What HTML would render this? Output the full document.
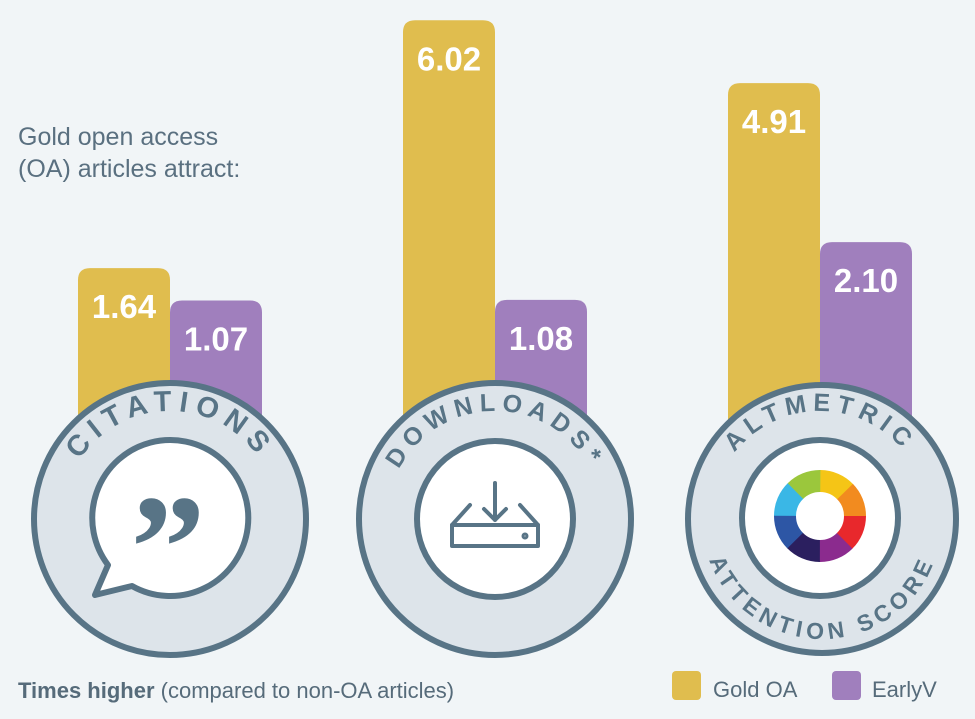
<!DOCTYPE html>
<html><head><meta charset="utf-8">
<style>
html,body{margin:0;padding:0;background:#f1f5f7;}
svg{display:block;font-family:"Liberation Sans",sans-serif;}
</style></head>
<body>
<svg id="chart" width="975" height="719" viewBox="0 0 975 719">
<rect width="975" height="719" fill="#f1f5f7"/>
<text x="18" y="145" font-size="25" fill="#5a7080">Gold open access</text>
<text x="18" y="177" font-size="25" fill="#5a7080">(OA) articles attract:</text>
<g id="bars"></g>
<text x="18" y="698" font-size="22" fill="#566b7a"><tspan font-weight="bold">Times higher</tspan> (compared to non-OA articles)</text>
<rect x="672" y="671" width="29" height="29" rx="4" fill="#e0bd4e"/>
<text x="713" y="697" font-size="22" fill="#566b7a">Gold OA</text>
<rect x="832" y="671" width="29" height="29" rx="4" fill="#a07fbd"/>
<text x="872" y="697" font-size="22" fill="#566b7a">EarlyV</text>
</svg>
<script>
const categories = ["Citations","Downloads","Altmetric"];
const goldValues = [1.64, 6.02, 4.91];
const earlyValues = [1.07, 1.08, 2.10];
const goldLabels = ["1.64","6.02","4.91"];
const earlyLabels = ["1.07","1.08","2.10"];

const NS = "http://www.w3.org/2000/svg";
const baseY = 361, pxPerUnit = 56.6, barBottom = 470, barW = 92;
const centers = [170, 495, 820];
const yScale = v => baseY - v * pxPerUnit;
function mk(tag, attrs, parent){const e=document.createElementNS(NS,tag);for(const k in attrs)e.setAttribute(k,attrs[k]);parent.appendChild(e);return e;}
const bars = document.getElementById('bars');
categories.forEach((c,i)=>{
  const cx = centers[i];
  [[goldValues[i],goldLabels[i],"#e0bd4e",cx-barW,"gold"],[earlyValues[i],earlyLabels[i],"#a07fbd",cx,"earlyv"]].forEach(([v,l,col,x,s])=>{
    const y = yScale(v);
    const p = mk('path',{d:`M${x} ${barBottom} V${y+12} Q${x} ${y} ${x+12} ${y} H${x+barW-12} Q${x+barW} ${y} ${x+barW} ${y+12} V${barBottom} Z`,fill:col},bars);
    
    
    const t = mk('text',{x:x+barW/2,y:y+50,'text-anchor':'middle','font-size':33,'font-weight':'bold',fill:'#fff'},bars);
    t.textContent = l;
    
    
  });
});
</script>
<svg style="position:absolute;left:0;top:0" width="975" height="719">
<defs>
<path id="arcTop1" d="M62 519 A108 108 0 0 1 278 519"/>
<path id="arcTop2" d="M387 519 A108 108 0 0 1 603 519"/>
<path id="arcTop3" d="M712 519 A108 108 0 0 1 928 519"/>
<path id="arcBot3" d="M702 519 A120 120 0 0 0 942 519"/>
</defs>
<g>
<circle cx="170" cy="519" r="136" fill="#dde4ea" stroke="#587486" stroke-width="6"/>
<text font-size="29" font-weight="bold" fill="#587486" letter-spacing="7" font-family="Liberation Sans,sans-serif"><textPath href="#arcTop1" startOffset="50%" text-anchor="middle">CITATIONS</textPath></text>
<path d="M108 565 A78 78 0 1 1 132 586 L95 595 Z" fill="#fff" stroke="#587486" stroke-width="6" stroke-linejoin="round"/>
<text x="168" y="598" text-anchor="middle" font-size="150" font-weight="bold" fill="#587486" font-family="Liberation Serif,serif">”</text>
</g>
<g>
<circle cx="495" cy="519" r="136" fill="#dde4ea" stroke="#587486" stroke-width="6"/>
<text font-size="25" font-weight="bold" fill="#587486" letter-spacing="6" font-family="Liberation Sans,sans-serif"><textPath href="#arcTop2" startOffset="50%" text-anchor="middle">DOWNLOADS*</textPath></text>
<circle cx="495" cy="519" r="78" fill="#fff" stroke="#587486" stroke-width="6"/>
<g fill="none" stroke="#587486" stroke-width="4" stroke-linecap="round" stroke-linejoin="round">
<path d="M470 505 L452 525 V546 H538 V525 L520 505"/><path d="M452 525 H538"/><path d="M495 483 V520 M484 509 L495 520 L506 509"/><circle cx="525" cy="536" r="1.5"/>
</g>
</g>
<g>
<circle cx="822" cy="519" r="134" fill="#dde4ea" stroke="#587486" stroke-width="6"/>
<text font-size="25" font-weight="bold" fill="#587486" letter-spacing="6" font-family="Liberation Sans,sans-serif"><textPath href="#arcTop3" startOffset="50%" text-anchor="middle">ALTMETRIC</textPath></text>
<text font-size="23" font-weight="bold" fill="#587486" letter-spacing="5" font-family="Liberation Sans,sans-serif"><textPath href="#arcBot3" startOffset="50%" text-anchor="middle">ATTENTION SCORE</textPath></text>
<circle cx="820" cy="518" r="78" fill="#fff" stroke="#587486" stroke-width="6"/>
<g fill="none" stroke-width="22">
<circle cx="820" cy="516" r="35" stroke="#e8282c" stroke-dasharray="28 200" stroke-dashoffset="0"/>
<circle cx="820" cy="516" r="35" stroke="#8b2b8e" stroke-dasharray="28 200" stroke-dashoffset="-27.5"/>
<circle cx="820" cy="516" r="35" stroke="#2b1f5f" stroke-dasharray="28 200" stroke-dashoffset="-55"/>
<circle cx="820" cy="516" r="35" stroke="#2d56a5" stroke-dasharray="28 200" stroke-dashoffset="-82.5"/>
<circle cx="820" cy="516" r="35" stroke="#3ab7e6" stroke-dasharray="28 200" stroke-dashoffset="-110"/>
<circle cx="820" cy="516" r="35" stroke="#9bc73c" stroke-dasharray="28 200" stroke-dashoffset="-137.5"/>
<circle cx="820" cy="516" r="35" stroke="#f5c516" stroke-dasharray="28 200" stroke-dashoffset="-165"/>
<circle cx="820" cy="516" r="35" stroke="#f28b1f" stroke-dasharray="28 200" stroke-dashoffset="-192.5"/>
</g>
</g>
</svg>
</body></html>
